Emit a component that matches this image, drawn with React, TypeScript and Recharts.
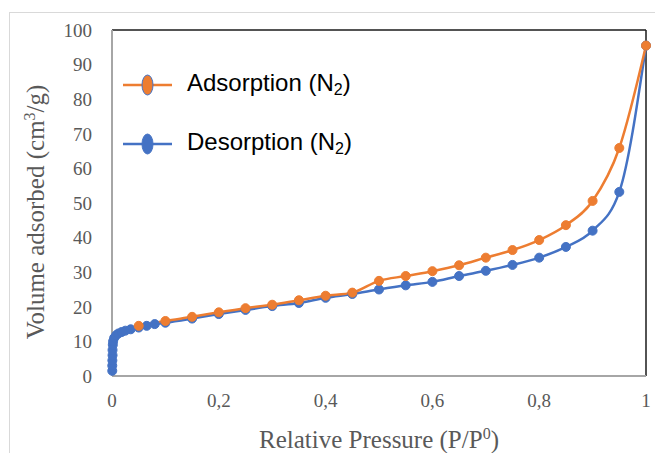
import { ComposedChart, Line, XAxis, YAxis, ReferenceLine } from 'recharts';

// Adsorption branch (orange)
const adsP = [0.05, 0.1, 0.15, 0.2, 0.25, 0.3, 0.35, 0.4, 0.45, 0.5, 0.55, 0.6, 0.65, 0.7, 0.75, 0.8, 0.85, 0.9, 0.95, 1.0];
const adsV = [14.5, 15.9, 17.1, 18.4, 19.6, 20.6, 21.9, 23.2, 24.1, 27.5, 28.9, 30.3, 32.0, 34.2, 36.4, 39.3, 43.6, 50.6, 65.9, 95.5];

// Desorption branch (blue), dense near p = 0
const desP = [0.0005, 0.0005, 0.0007, 0.001, 0.001, 0.0015, 0.002, 0.004, 0.008, 0.012, 0.018, 0.025, 0.035, 0.05, 0.065, 0.08, 0.1, 0.15, 0.2, 0.25, 0.3, 0.35, 0.4, 0.45, 0.5, 0.55, 0.6, 0.65, 0.7, 0.75, 0.8, 0.85, 0.9, 0.95, 1.0];
const desV = [1.5, 3, 4.5, 6, 7.5, 9, 10, 11, 11.8, 12.3, 12.7, 13.1, 13.5, 14.0, 14.5, 15.0, 15.4, 16.6, 17.9, 19.1, 20.2, 21.1, 22.6, 23.7, 25.0, 26.2, 27.2, 28.9, 30.4, 32.1, 34.2, 37.3, 42.0, 53.2, 95.5];

const xTicks = [0, 0.2, 0.4, 0.6, 0.8, 1];
const yTicks = [0, 10, 20, 30, 40, 50, 60, 70, 80, 90, 100];

const ORANGE = '#ED7D31';
const BLUE = '#4472C4';
const SERIF = '"Liberation Serif", "Times New Roman", serif';
const SANS = '"Liberation Sans", Arial, sans-serif';

const adsData = adsP.map((p, i) => ({ p, v: adsV[i] }));
const desData = desP.map((p, i) => ({ p, v: desV[i] }));

const legendItems = [
  { name: 'Adsorption', color: ORANGE },
  { name: 'Desorption', color: BLUE },
];

// legend sits inside the plot, top-left, like the Excel original
function LegendBox() {
  return (
    <div style={{ position: 'absolute', left: 122, top: 55, fontFamily: SANS, fontSize: 24, color: '#000', lineHeight: 1 }}>
      {legendItems.map((it) => (
        <div key={it.name} style={{ display: 'flex', alignItems: 'center', height: 59 }}>
          <svg width={52} height={24}>
            <line x1={1} y1={12} x2={50} y2={12} stroke={it.color} strokeWidth={2.5} />
            <ellipse cx={25.5} cy={12} rx={5.5} ry={10} fill={it.color} stroke={BLUE} strokeWidth={1} />
          </svg>
          <span style={{ marginLeft: 13 }}>
            {it.name} (N<sub style={{ fontSize: 16, verticalAlign: -4 }}>2</sub>)
          </span>
        </div>
      ))}
    </div>
  );
}

export default function App() {
  return (
    <div style={{ position: 'absolute', left: 0, top: 0, width: 655, height: 453, overflow: 'hidden', background: '#fff' }}>
      <div style={{ position: 'absolute', left: 9, top: 12, width: 700, height: 500, border: '1px solid #d9d9d9' }} />
      <ComposedChart
        width={655}
        height={453}
        margin={{ top: 30, right: 9, bottom: 17, left: 12 }}
        style={{ position: 'absolute', left: 0, top: 0 }}
      >
        <XAxis
          type="number"
          dataKey="p"
          domain={[0, 1]}
          ticks={xTicks}
          interval={0}
          tickFormatter={(v: number) => String(v).replace('.', ',')}
          tickLine={false}
          axisLine={{ stroke: '#a6a6a6', strokeWidth: 2 }}
          tick={{ fill: '#595959', fontSize: 19, fontFamily: SERIF }}
          tickMargin={12}
          height={60}
          label={{
            content: (props: any) => {
              const vb = props.viewBox || {};
              return (
                <text x={vb.x + vb.width / 2} y={448} textAnchor="middle" fill="#595959" fontSize={25} fontFamily={SERIF}>
                  <tspan>Relative Pressure (P/P</tspan>
                  <tspan dy={-9} fontSize={16}>0</tspan>
                  <tspan dy={9}>)</tspan>
                </text>
              );
            },
          }}
        />
        <YAxis
          type="number"
          dataKey="v"
          domain={[0, 100]}
          ticks={yTicks}
          interval={0}
          tickLine={false}
          axisLine={{ stroke: '#a6a6a6', strokeWidth: 2 }}
          tick={{ fill: '#595959', fontSize: 19, fontFamily: SERIF }}
          tickMargin={14}
          width={100}
          label={{
            content: () => (
              <text x={0} y={0} transform="translate(44,212) rotate(-90)" textAnchor="middle" fill="#595959" fontSize={25} fontFamily={SERIF}>
                <tspan>Volume adsorbed (cm</tspan>
                <tspan dy={-9} fontSize={16}>3</tspan>
                <tspan dy={9}>/g)</tspan>
              </text>
            ),
          }}
        />
        <ReferenceLine y={100} stroke="#1a1a1a" strokeWidth={1.5} />
        <ReferenceLine x={1} stroke="#1a1a1a" strokeWidth={1.5} />
        <Line
          data={desData}
          dataKey="v"
          type="monotone"
          stroke={BLUE}
          strokeWidth={2.5}
          dot={{ r: 4.5, fill: BLUE, stroke: BLUE, strokeWidth: 1 }}
          activeDot={false}
          isAnimationActive={false}
        />
        <Line
          data={adsData}
          dataKey="v"
          type="monotone"
          stroke={ORANGE}
          strokeWidth={2.5}
          dot={{ r: 4.5, fill: ORANGE, stroke: ORANGE, strokeWidth: 1 }}
          activeDot={false}
          isAnimationActive={false}
        />
      </ComposedChart>
      <LegendBox />
    </div>
  );
}
